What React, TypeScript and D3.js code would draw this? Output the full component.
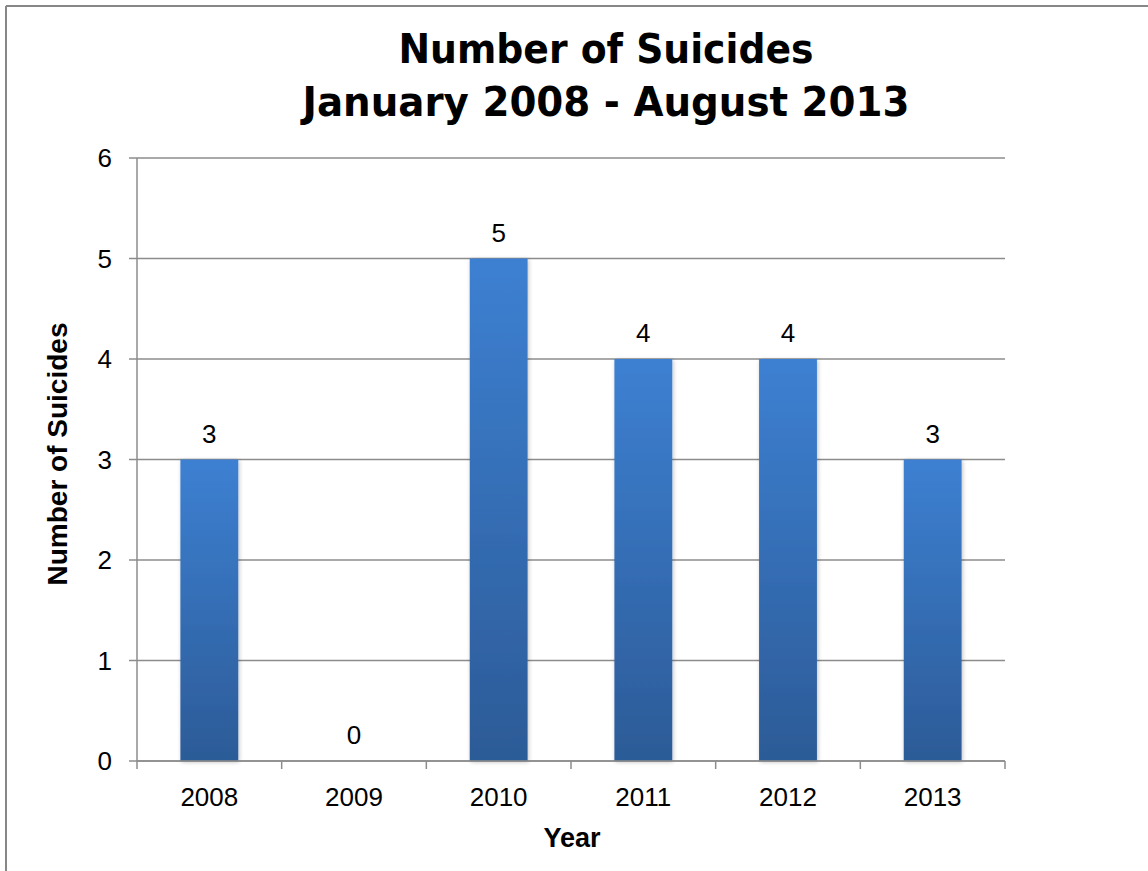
import React from "react";
import * as d3 from "d3";

const years = ["2008", "2009", "2010", "2011", "2012", "2013"];
const suicides = [3, 0, 5, 4, 4, 3];
const yTicks = [0, 1, 2, 3, 4, 5, 6];
const titleLines = ["Number of Suicides", "January 2008 - August 2013"];
const yTitle = "Number of Suicides";
const xTitle = "Year";

const W = 1148;
const H = 871;
const M = { left: 137, right: 1005, top: 158, bottom: 761 };
const tickFont = "'Liberation Sans', Arial, sans-serif";
const titleFont = "'DejaVu Sans', Verdana, sans-serif";
const axisTitleFont = "'Liberation Sans', Arial, sans-serif";
const titleWidths = [415, 607];

export default function App() {
  const x = d3.scaleBand<string>().domain(years).range([M.left, M.right]).paddingInner(0).paddingOuter(0);
  const y = d3.scaleLinear().domain([0, 6]).range([M.bottom, M.top]);
  const bw = x.bandwidth() * 0.4;
  const boundaries = years.map((yr) => x(yr) as number).concat([M.right]);
  const grid = "#8c8c8c";

  return (
    <svg width={W} height={H} style={{ position: "absolute", left: 0, top: 0, background: "#fff" }}>
      <defs>
        <linearGradient id="barGrad" x1="0" y1="0" x2="0" y2="1">
          <stop offset="0%" stopColor="#3d80d2" />
          <stop offset="100%" stopColor="#2c5b97" />
        </linearGradient>
        <filter id="shadow" x="-20%" y="-5%" width="140%" height="110%">
          <feGaussianBlur in="SourceAlpha" stdDeviation="2" />
          <feOffset dx="1" dy="1" result="b" />
          <feComponentTransfer><feFuncA type="linear" slope="0.25" /></feComponentTransfer>
          <feMerge><feMergeNode /><feMergeNode in="SourceGraphic" /></feMerge>
        </filter>
      </defs>
      <rect x={0} y={0} width={W} height={H} fill="#fff" />
      {/* outer border (left & top visible) */}
      <line x1={6} y1={6} x2={W + 2} y2={6} stroke="#878787" strokeWidth={2} />
      <line x1={6} y1={6} x2={6} y2={H + 2} stroke="#878787" strokeWidth={2} />

      {/* title */}
      {titleLines.map((t, i) => (
        <text
          key={t}
          x={606}
          y={63 + i * 53}
          textAnchor="middle"
          fontFamily={titleFont}
          fontWeight="bold"
          fontSize={41}
          textLength={titleWidths[i]}
          lengthAdjust="spacingAndGlyphs"
          fill="#000"
        >
          {t}
        </text>
      ))}

      {/* gridlines + y ticks */}
      {yTicks.map((v) => (
        <g key={v}>
          <line x1={M.left - 8} x2={M.right} y1={y(v)} y2={y(v)} stroke={grid} strokeWidth={1.5} />
          <text x={112} y={y(v)} dy="0.35em" textAnchor="end" fontFamily={tickFont} fontSize={26} fill="#000">
            {v}
          </text>
        </g>
      ))}
      {/* y axis line */}
      <line x1={M.left} x2={M.left} y1={M.top} y2={M.bottom} stroke={grid} strokeWidth={1.5} />

      {/* bars */}
      {years.map((yr, i) => {
        const v = suicides[i];
        const cx = (x(yr) as number) + x.bandwidth() / 2;
        return (
          <g key={yr}>
            {v > 0 && (
              <rect x={cx - bw / 2} y={y(v)} width={bw} height={y(0) - y(v)} fill="url(#barGrad)" filter="url(#shadow)" />
            )}
            <text x={cx} y={y(v) - 17} textAnchor="middle" fontFamily={tickFont} fontSize={26} fill="#000">
              {v}
            </text>
          </g>
        );
      })}

      {/* x axis */}
      <line x1={M.left} x2={M.right} y1={M.bottom} y2={M.bottom} stroke={grid} strokeWidth={1.5} />
      {boundaries.map((b, i) => (
        <line key={i} x1={b} x2={b} y1={M.bottom} y2={M.bottom + 8} stroke={grid} strokeWidth={1.5} />
      ))}
      {years.map((yr) => (
        <text key={yr} x={(x(yr) as number) + x.bandwidth() / 2} y={806} textAnchor="middle" fontFamily={tickFont} fontSize={26} fill="#000">
          {yr}
        </text>
      ))}

      {/* axis titles */}
      <text x={572} y={847} textAnchor="middle" fontFamily={axisTitleFont} fontWeight="bold" fontSize={27} fill="#000">
        {xTitle}
      </text>
      <text transform={`translate(67,454) rotate(-90)`} textAnchor="middle" fontFamily={axisTitleFont} fontWeight="bold" fontSize={28} fill="#000">
        {yTitle}
      </text>
    </svg>
  );
}
